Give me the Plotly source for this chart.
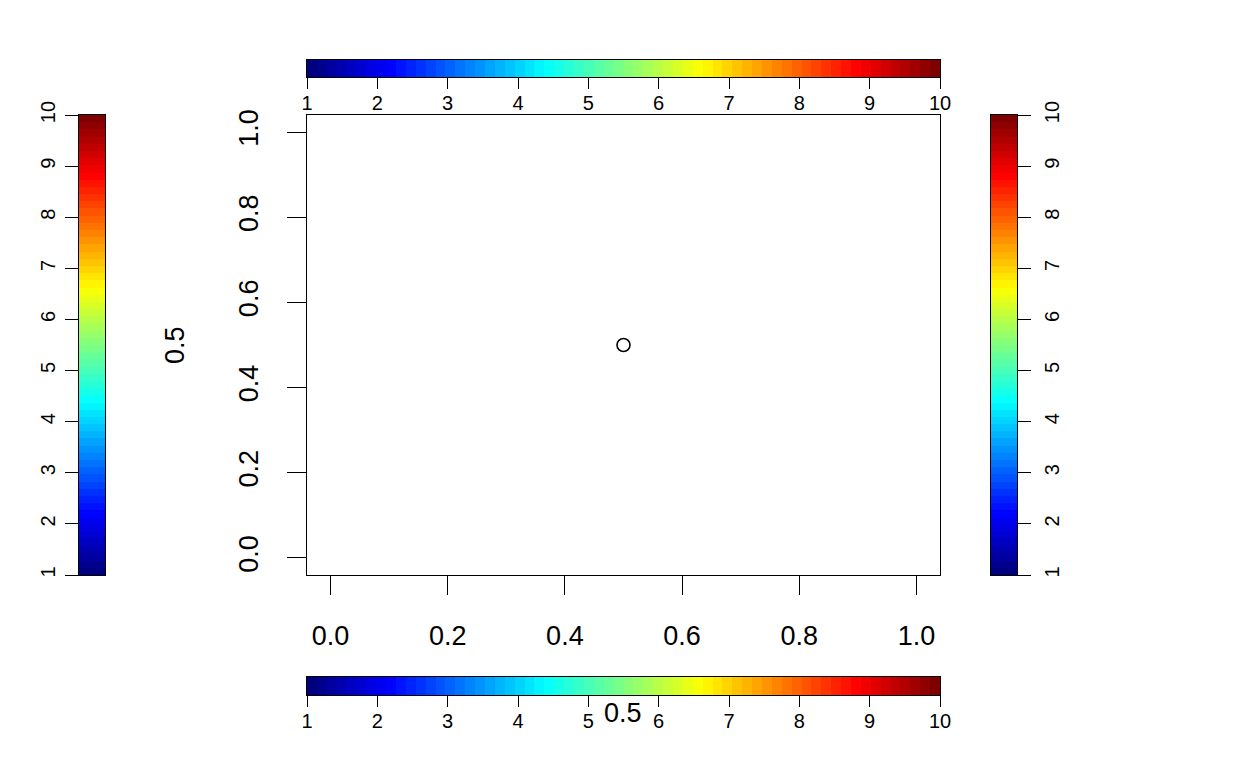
import plotly.graph_objects as go

W, H = 1248, 768

# ---- data ----
point_x = [0.5]
point_y = [0.5]
x_title = "0.5"
y_title = "0.5"
main_ticks = [0.0, 0.2, 0.4, 0.6, 0.8, 1.0]
main_ticktext = ["0.0", "0.2", "0.4", "0.6", "0.8", "1.0"]
cbar_ticks = [1, 2, 3, 4, 5, 6, 7, 8, 9, 10]
cbar_ticktext = ["1", "2", "3", "4", "5", "6", "7", "8", "9", "10"]
cbar_min, cbar_max = 1, 10
n_colors = 64
jet_stops = ["#00007F", "#0000FF", "#007FFF", "#00FFFF", "#7FFF7F",
             "#FFFF00", "#FF7F00", "#FF0000", "#7F0000"]

FONT = "Liberation Sans, Arial, Helvetica, sans-serif"

def px_x(p):
    return p / W

def px_y(p):
    return 1 - p / H

colorscale = [[i / (len(jet_stops) - 1), c] for i, c in enumerate(jet_stops)]
step = (cbar_max - cbar_min) / n_colors
edges = [cbar_min + i * step for i in range(n_colors + 1)]
centers = [cbar_min + (cbar_max - cbar_min) * i / (n_colors - 1) for i in range(n_colors)]

fig = go.Figure()

# main point
fig.add_trace(go.Scatter(
    x=point_x, y=point_y, mode="markers",
    marker=dict(symbol="circle-open", size=13, color="black", line=dict(width=1.6)),
    xaxis="x", yaxis="y", hoverinfo="skip", showlegend=False))

# horizontal colorbars (top: x2/y2, bottom: x5/y5)
for xa, ya in [("x2", "y2"), ("x5", "y5")]:
    fig.add_trace(go.Heatmap(
        x=edges, y=[0, 1], z=[centers], colorscale=colorscale,
        zmin=cbar_min, zmax=cbar_max, showscale=False, hoverinfo="skip",
        xaxis=xa, yaxis=ya))

# vertical colorbars (left: x3/y3, right: x4/y4)
for xa, ya in [("x3", "y3"), ("x4", "y4")]:
    fig.add_trace(go.Heatmap(
        x=[0, 1], y=edges, z=[[c] for c in centers], colorscale=colorscale,
        zmin=cbar_min, zmax=cbar_max, showscale=False, hoverinfo="skip",
        xaxis=xa, yaxis=ya))

main_font = dict(family=FONT, size=27, color="black")
cb_font = dict(family=FONT, size=20, color="black")

box_x = [px_x(307), px_x(940)]
box_y = [px_y(575), px_y(115)]

common_line = dict(showline=True, linecolor="black", linewidth=1, mirror=True,
                   showgrid=False, zeroline=False, fixedrange=True, automargin=False)
no_ticks = dict(showticklabels=False, ticks="")

layout = dict(
    template="none",
    width=W, height=H,
    margin=dict(l=0, r=0, t=0, b=0, pad=0),
    paper_bgcolor="white", plot_bgcolor="white",
    showlegend=False,
    xaxis=dict(domain=box_x, range=[-0.04, 1.04], anchor="y",
               tickmode="array", tickvals=main_ticks, ticktext=main_ticktext,
               ticks="outside", ticklen=19, tickwidth=1, tickcolor="black",
               tickfont=main_font, ticklabelstandoff=18, **common_line),
    yaxis=dict(domain=box_y, range=[-0.04, 1.04], anchor="x",
               tickmode="array", tickvals=main_ticks, ticktext=main_ticktext,
               ticks="outside", ticklen=19, tickwidth=1, tickcolor="black",
               tickangle=-90, tickfont=main_font, ticklabelstandoff=18, **common_line),
    # top colorbar
    xaxis2=dict(domain=box_x, range=[cbar_min, cbar_max], anchor="y2", side="bottom",
                tickmode="array", tickvals=cbar_ticks, ticktext=cbar_ticktext,
                ticks="outside", ticklen=11, tickwidth=1, tickcolor="black",
                tickfont=cb_font, ticklabelstandoff=-3, **common_line),
    yaxis2=dict(domain=[px_y(77), px_y(60)], range=[0, 1], anchor="x2",
                **no_ticks, **common_line),
    # bottom colorbar
    xaxis5=dict(domain=box_x, range=[cbar_min, cbar_max], anchor="y5", side="bottom",
                tickmode="array", tickvals=cbar_ticks, ticktext=cbar_ticktext,
                ticks="outside", ticklen=11, tickwidth=1, tickcolor="black",
                tickfont=cb_font, ticklabelstandoff=-3, **common_line),
    yaxis5=dict(domain=[px_y(695), px_y(677)], range=[0, 1], anchor="x5",
                **no_ticks, **common_line),
    # left colorbar
    xaxis3=dict(domain=[px_x(79), px_x(105)], range=[0, 1], anchor="y3",
                **no_ticks, **common_line),
    yaxis3=dict(domain=box_y, range=[cbar_min, cbar_max], anchor="x3", side="left",
                tickmode="array", tickvals=cbar_ticks, ticktext=cbar_ticktext,
                ticks="outside", ticklen=13, tickwidth=1, tickcolor="black",
                tickangle=-90, tickfont=cb_font, ticklabelstandoff=2, **common_line),
    # right colorbar
    xaxis4=dict(domain=[px_x(991), px_x(1017)], range=[0, 1], anchor="y4",
                **no_ticks, **common_line),
    yaxis4=dict(domain=box_y, range=[cbar_min, cbar_max], anchor="x4", side="right",
                tickmode="array", tickvals=cbar_ticks, ticktext=cbar_ticktext,
                ticks="outside", ticklen=13, tickwidth=1, tickcolor="black",
                tickangle=-90, tickfont=cb_font, ticklabelstandoff=4, **common_line),
    annotations=[
        dict(text=y_title, x=px_x(175), y=px_y(345), xref="paper", yref="paper",
             showarrow=False, textangle=-90, font=main_font,
             xanchor="center", yanchor="middle"),
        dict(text=x_title, x=px_x(623), y=px_y(713), xref="paper", yref="paper",
             showarrow=False, font=main_font, xanchor="center", yanchor="middle"),
    ],
)
fig.update_layout(**layout)

fig.write_html("out.html",
               config={"displayModeBar": False},
               post_script="document.body.style.margin='0';document.body.style.padding='0';")
